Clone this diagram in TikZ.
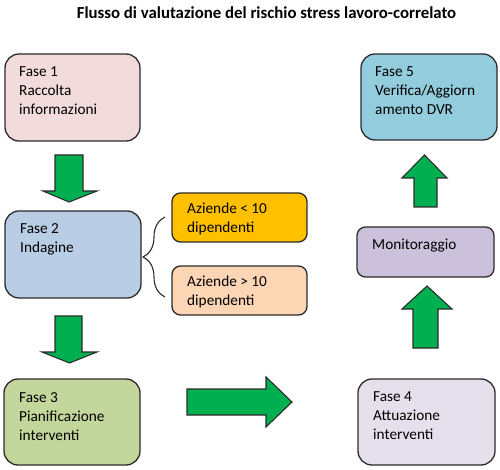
\documentclass[tikz,border=0pt]{standalone}
\usepackage{fontspec}
\setmainfont{Carlito}
\usetikzlibrary{calc,decorations.pathreplacing}
\definecolor{cF1}{HTML}{F2DCDB}
\definecolor{cF2}{HTML}{B9CDE5}
\definecolor{cAzA}{HTML}{FFC000}
\definecolor{cAzB}{HTML}{FCD5B5}
\definecolor{cF3}{HTML}{C3D69B}
\definecolor{cF4}{HTML}{E6E0EC}
\definecolor{cMon}{HTML}{CCC1DA}
\definecolor{cF5}{HTML}{93CDDD}
\definecolor{cArrow}{HTML}{00B050}
\definecolor{cLine}{HTML}{2B2B2B}
\tikzset{
  box/.style={draw=cLine, line width=1.3pt, anchor=north west, inner sep=0pt, outer sep=0pt},
  bigbox/.style={box, rounded corners=14pt},
  smallbox/.style={box, rounded corners=8.5pt},
  txt/.style={anchor=north west, inner sep=0pt, align=left,
    font=\fontsize{15.3}{19}\selectfont},
  garrow/.style={draw=cLine, fill=cArrow, line width=1.1pt, line join=miter},
  title/.style={font=\fontsize{16.8}{20}\selectfont\bfseries, inner sep=0pt, anchor=base}
}
\begin{document}
\begin{tikzpicture}[x=1pt,y=-1pt]
\useasboundingbox (0,0) rectangle (500,470);
% title
\node[title] (title) at (266.5,18.5) {Flusso di valutazione del rischio stress lavoro-correlato};
% boxes
\node[bigbox, fill=cF1, minimum width=135pt, minimum height=87pt] (f1) at (5,54) {};
\node[bigbox, fill=cF2, minimum width=136pt, minimum height=87pt] (f2) at (5,211) {};
\node[smallbox, fill=cAzA, minimum width=135pt, minimum height=49pt] (az1) at (172,193) {};
\node[smallbox, fill=cAzB, minimum width=135pt, minimum height=49pt] (az2) at (172,266) {};
\node[bigbox, fill=cF3, minimum width=136pt, minimum height=86pt] (f3) at (4,379) {};
\node[bigbox, fill=cF4, minimum width=137pt, minimum height=86pt] (f4) at (358,379) {};
\node[smallbox, fill=cMon, minimum width=137pt, minimum height=50pt] (mon) at (357,227) {};
\node[bigbox, fill=cF5, minimum width=136pt, minimum height=86pt] (f5) at (361,54) {};
% texts
\node[txt] (t1) at ($(f1.north west)+(14,9.5)$) {\strut Fase 1\\Raccolta\\informazioni};
\node[txt] (t2) at ($(f2.north west)+(15,8.7)$) {\strut Fase 2\\Indagine};
\node[txt] (ta) at ($(az1.north west)+(15,6.7)$) {\strut Aziende < 10\\dipendenti};
\node[txt] (tb) at ($(az2.north west)+(15,6.7)$) {\strut Aziende > 10\\dipendenti};
\node[txt] (t3) at ($(f3.north west)+(15,9.5)$) {\strut Fase 3\\Pianificazione\\interventi};
\node[txt] (t4) at ($(f4.north west)+(15,8.7)$) {\strut Fase 4\\Attuazione\\interventi};
\node[txt] (tm) at ($(mon.north west)+(15,8.7)$) {\strut Monitoraggio};
\node[txt] (t5) at ($(f5.north west)+(14,8.7)$) {\strut Fase 5\\Verifica/Aggiorn\\amento DVR};
% brace
\draw[cLine, line width=1.1pt, decorate, decoration={brace, amplitude=22pt, aspect=0.5}]
  (165,297) -- (165,217);
% block arrows
\draw[garrow] (55,155) -- (83,155) -- (83,191) -- (97,191) -- (69,202) -- (43,191) -- (55,191) -- cycle;
\draw[garrow] (55,316) -- (82,316) -- (82,352) -- (97,352) -- (69.5,363) -- (42,352) -- (55,352) -- cycle;
\draw[garrow] (187,389) -- (266,389) -- (266,377) -- (292,402) -- (266,427) -- (266,415) -- (187,415) -- cycle;
\draw[garrow] (414,207) -- (414,178) -- (402,178) -- (424.5,155) -- (447,178) -- (437,178) -- (437,207) -- cycle;
\draw[garrow] (413,348) -- (413,309) -- (402,309) -- (427,286) -- (452,309) -- (438,309) -- (438,348) -- cycle;
\end{tikzpicture}
\end{document}
